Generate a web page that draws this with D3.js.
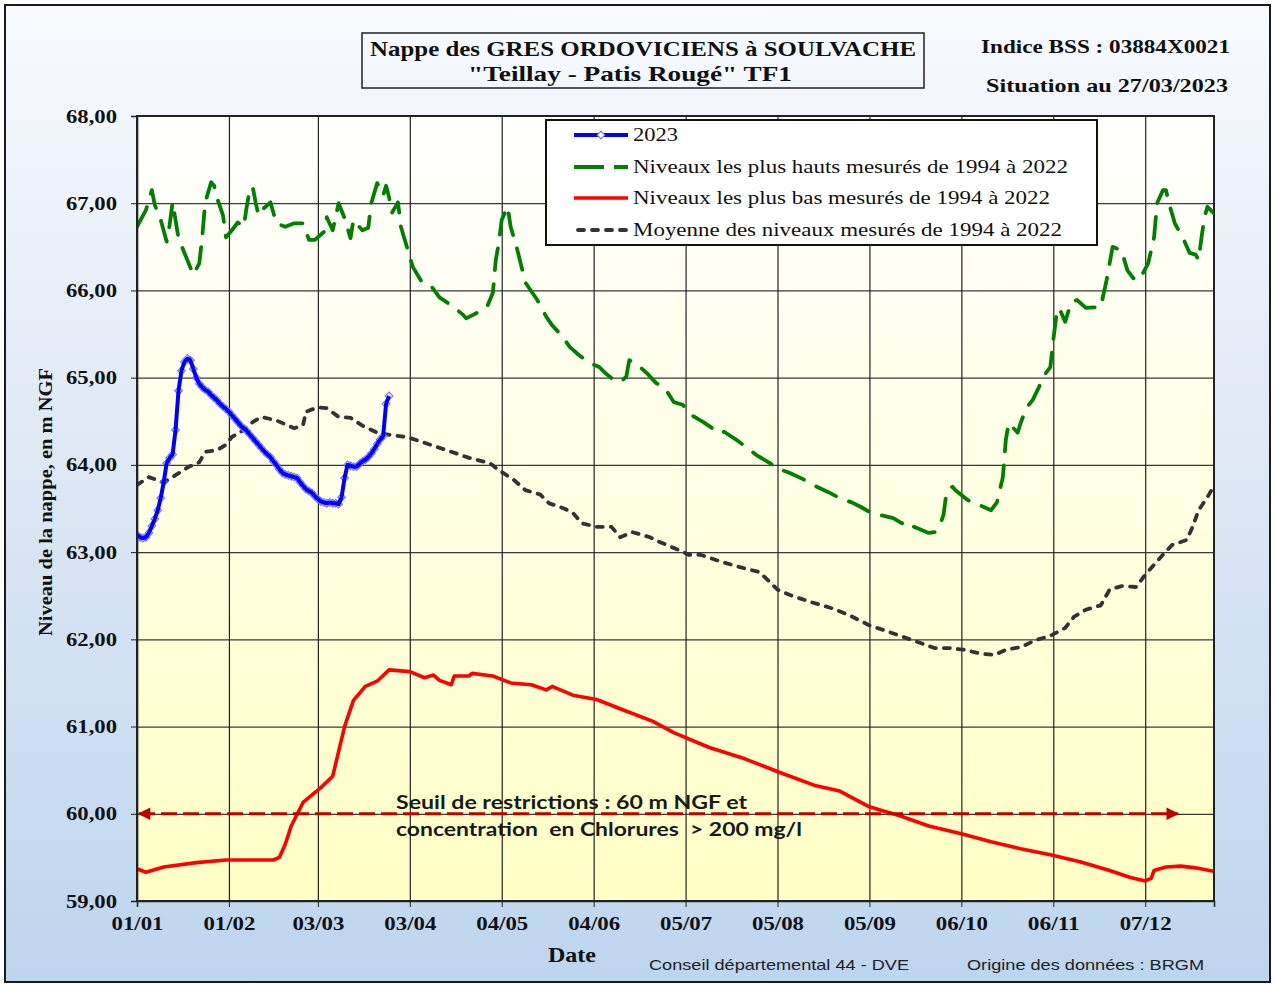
<!DOCTYPE html>
<html><head><meta charset="utf-8">
<script src="https://cdn.jsdelivr.net/npm/d3@7"></script>
<style>body{margin:0;background:#fff}</style>
</head><body>
<svg id="chart" width="1275" height="985"></svg>
<script>
// ---------- DATA ----------
const yTicks = [59,60,61,62,63,64,65,66,67,68];
const xTickDays = [0,31,61,92,123,154,185,216,247,278,309,340];
const xTickLabels = ["01/01","01/02","03/03","03/04","04/05","04/06","05/07","05/08","05/09","06/10","06/11","07/12"];

// 2023 daily levels (index = day of year, 0 = 1 Jan)
const values2023 = [63.20,63.17,63.16,63.17,63.22,63.30,63.38,63.48,63.62,63.80,
 64.02,64.08,64.12,64.40,64.85,65.08,65.18,65.22,65.20,65.10,
 65.00,64.93,64.89,64.86,64.84,64.80,64.77,64.74,64.70,64.67,
 64.64,64.61,64.57,64.53,64.49,64.45,64.42,64.39,64.35,64.31,
 64.27,64.23,64.19,64.15,64.12,64.09,64.04,64.00,63.95,63.91,
 63.89,63.88,63.87,63.86,63.85,63.80,63.76,63.72,63.70,63.68,
 63.64,63.61,63.58,63.57,63.56,63.57,63.56,63.56,63.55,63.63,
 63.85,64.00,63.99,63.98,63.98,64.01,64.04,64.06,64.09,64.13,
 64.18,64.24,64.29,64.33,64.70,64.79];

const maxDays = [0,3,5,6,8,10,11,12,14,16,19,21,22,23,25,26,27,29,30,32,34,36,37,38,39,40,41,42,45,47,50,53,56,58,60,63,64,66,68,70,72,73,76,78,79,81,83,84,85,86,88,89,91,93,96,99,102,106,110,111,115,118,120,121,122,123,125,126,128,131,135,138,140,143,146,149,152,156,158,161,163,165,166,168,172,175,178,181,184,187,191,194,197,198,202,206,209,213,216,220,225,228,233,237,241,244,247,250,255,258,260,262,267,269,271,272,273,275,276,280,288,290,292,293,294,297,298,300,302,304,306,308,309,310,311,313,315,317,320,325,327,329,332,334,336,338,341,343,344,346,347,348,350,353,355,357,358,359,360,361,363];
const maxVals = [66.73,66.92,67.15,66.98,66.81,66.56,66.75,67.01,66.60,66.43,66.18,66.31,66.61,67.01,67.24,67.20,67.06,66.86,66.61,66.69,66.78,66.73,66.96,67.15,67.19,67.01,66.86,66.92,67.01,66.77,66.73,66.77,66.77,66.58,66.58,66.67,66.84,66.69,67.00,66.83,66.60,66.81,66.69,66.72,67.00,67.23,67.09,67.20,67.07,66.89,67.01,66.73,66.50,66.27,66.10,66.06,65.92,65.83,65.72,65.68,65.75,65.81,65.97,66.35,66.54,66.81,66.96,66.73,66.50,66.09,65.89,65.70,65.60,65.49,65.35,65.26,65.18,65.12,65.05,64.97,64.95,65.01,65.20,65.17,65.05,64.94,64.88,64.72,64.69,64.57,64.49,64.42,64.36,64.38,64.29,64.19,64.11,64.03,63.96,63.91,63.83,63.77,63.69,63.62,63.57,63.52,63.46,63.43,63.39,63.33,63.35,63.29,63.22,63.23,63.33,63.43,63.69,63.75,63.71,63.60,63.48,63.57,63.86,64.29,64.48,64.37,64.48,64.66,64.74,64.88,65.03,65.12,65.43,65.70,65.80,65.64,65.86,65.89,65.80,65.81,66.12,66.50,66.46,66.23,66.14,66.12,66.31,66.61,67.00,67.15,67.15,67.00,66.77,66.58,66.43,66.41,66.35,66.61,66.84,66.96,66.89];

const minDays = [0,3,9,20,30,41,46,48,50,52,56,62,66,70,73,77,81,85,92,97,100,102,106,107,112,113,120,126,133,138,140,147,155,164,174,181,193,205,217,229,237,243,247,252,257,267,278,288,298,308,318,328,335,340,342,343,347,352,357,363];
const minVals = [59.37,59.33,59.39,59.44,59.47,59.47,59.47,59.50,59.65,59.86,60.13,60.30,60.43,61.00,61.30,61.46,61.52,61.65,61.63,61.56,61.59,61.53,61.48,61.58,61.58,61.61,61.58,61.50,61.48,61.42,61.46,61.36,61.31,61.19,61.06,60.93,60.76,60.63,60.47,60.32,60.26,60.15,60.08,60.03,59.98,59.86,59.77,59.68,59.60,59.53,59.45,59.35,59.27,59.23,59.26,59.35,59.39,59.40,59.38,59.34];

const meanDays = [0,4,9,12,17,21,23,27,30,32,36,39,42,47,53,56,57,61,64,68,72,76,81,86,91,99,106,112,119,122,127,131,136,139,144,147,150,155,160,163,167,173,176,183,186,190,197,203,210,216,220,227,234,240,247,254,259,264,269,274,279,284,289,293,298,303,308,313,316,320,325,328,332,337,340,346,349,354,356,358,361,363];
const meanVals = [63.77,63.86,63.80,63.86,63.97,64.03,64.15,64.17,64.23,64.32,64.40,64.49,64.55,64.51,64.42,64.46,64.61,64.66,64.65,64.55,64.54,64.45,64.37,64.34,64.32,64.23,64.15,64.08,64.02,63.94,63.83,63.71,63.66,63.56,63.50,63.45,63.33,63.29,63.29,63.17,63.23,63.17,63.12,63.02,62.97,62.97,62.89,62.83,62.77,62.57,62.51,62.43,62.36,62.28,62.16,62.08,62.02,61.96,61.90,61.90,61.88,61.84,61.82,61.88,61.91,61.99,62.04,62.13,62.26,62.34,62.39,62.57,62.61,62.60,62.74,62.97,63.08,63.14,63.29,63.48,63.63,63.75];

const thresholdLevel = 60;
const thresholdEndDay = 351;
const legendLabels = ["2023","Niveaux les plus hauts mesurés de 1994 à 2022","Niveaux les plus bas mesurés de 1994 à 2022","Moyenne des niveaux mesurés de 1994 à 2022"];
const titleLines = ["Nappe des GRES ORDOVICIENS à SOULVACHE","\"Teillay - Patis Rougé\" TF1"];
const annotationLines = ["Seuil de restrictions : 60 m NGF et","concentration  en Chlorures  > 200 mg/l"];

// ---------- LAYOUT ----------
const L = 137, R = 1214, T = 116, B = 901;
const svg = d3.select("#chart");
const x = d3.scaleLinear().domain([0, 363.2]).range([L, R]);
const y = d3.scaleLinear().domain([59, 68]).range([B, T]);
const serif = "'Liberation Serif','Times New Roman',serif";
const sans = "'Liberation Sans',Arial,sans-serif";

const defs = svg.append("defs");
const bg = defs.append("linearGradient").attr("id","bgGrad").attr("x1",0).attr("y1",0).attr("x2",0).attr("y2",1);
bg.append("stop").attr("offset","0%").attr("stop-color","#f8fafd");
bg.append("stop").attr("offset","50%").attr("stop-color","#dbe7f4");
bg.append("stop").attr("offset","100%").attr("stop-color","#bdd5ee");
const pg = defs.append("linearGradient").attr("id","plotGrad").attr("x1",0).attr("y1",0).attr("x2",0).attr("y2",1);
pg.append("stop").attr("offset","0%").attr("stop-color","#ffffff");
pg.append("stop").attr("offset","100%").attr("stop-color","#ffffc6");
defs.append("marker").attr("id","arrow").attr("viewBox","0 0 10 10").attr("refX",9).attr("refY",5)
  .attr("markerWidth",5).attr("markerHeight",4.2).attr("markerUnits","strokeWidth")
  .attr("orient","auto-start-reverse")
  .append("path").attr("d","M0,0 L10,5 L0,10 z").attr("fill","#c00000");

// outer frame
svg.append("rect").attr("x",5).attr("y",5).attr("width",1265).attr("height",977)
  .attr("fill","url(#bgGrad)").attr("stroke","#1a1a1a").attr("stroke-width",2);

// plot background
svg.append("rect").attr("x",L).attr("y",T).attr("width",R-L).attr("height",B-T).attr("fill","url(#plotGrad)");

// grid
svg.append("g").attr("transform",`translate(${L},0)`)
  .call(d3.axisLeft(y).tickValues(yTicks).tickSize(-(R-L)).tickFormat(""))
  .call(g=>g.select(".domain").remove())
  .selectAll("line").attr("stroke","#3a3a3a").attr("stroke-width",1.2);
svg.append("g").attr("transform",`translate(0,${B})`)
  .call(d3.axisBottom(x).tickValues(xTickDays).tickSize(-(B-T)).tickFormat(""))
  .call(g=>g.select(".domain").remove())
  .selectAll("line").attr("stroke","#222").attr("stroke-width",1.2);

// plot border
svg.append("rect").attr("x",L).attr("y",T).attr("width",R-L).attr("height",B-T)
  .attr("fill","none").attr("stroke","#222").attr("stroke-width",2);

// ---------- SERIES ----------
const line = d3.line().x(d=>x(d[0])).y(d=>y(d[1]));
defs.append("clipPath").attr("id","clip").append("rect").attr("x",L).attr("y",T).attr("width",R-L).attr("height",B-T);
const plot = svg.append("g").attr("clip-path","url(#clip)");

plot.append("path").datum(d3.zip(meanDays, meanVals)).attr("d",line)
  .attr("fill","none").attr("stroke","#333333").attr("stroke-width",3.8)
  .attr("stroke-dasharray","6,8").attr("stroke-linecap","round");
plot.append("path").datum(d3.zip(maxDays, maxVals)).attr("d",line)
  .attr("fill","none").attr("stroke","#008000").attr("stroke-width",3.8)
  .attr("stroke-dasharray","22,14").attr("stroke-linecap","round").attr("stroke-linejoin","round");
plot.append("path").datum(d3.zip(minDays, minVals)).attr("d",line)
  .attr("fill","none").attr("stroke","#ff0000").attr("stroke-width",3.6).attr("stroke-linejoin","round");

// threshold with arrows
svg.append("line").attr("x1",x(0)+2).attr("x2",x(thresholdEndDay)).attr("y1",y(thresholdLevel)).attr("y2",y(thresholdLevel))
  .attr("stroke","#c00000").attr("stroke-width",3).attr("stroke-dasharray","16,6")
  .attr("marker-start","url(#arrow)").attr("marker-end","url(#arrow)");

// 2023
const d2023 = values2023.map((v,i)=>[i,v]);
const sym = d3.symbol().type(d3.symbolSquare).size(30);
plot.selectAll(".mk").data(d2023).join("path").attr("class","mk")
  .attr("d",sym).attr("transform",d=>`translate(${x(d[0])},${y(d[1])}) rotate(45)`)
  .attr("fill","none").attr("stroke","#7373ff").attr("stroke-width",1.1);
plot.append("path").datum(d2023).attr("d",line)
  .attr("fill","none").attr("stroke","#0000ff").attr("stroke-width",4).attr("stroke-linejoin","round");

// ---------- AXES ----------
const yAx = svg.append("g").attr("transform",`translate(${L},0)`)
  .call(d3.axisLeft(y).tickValues(yTicks).tickSize(6).tickPadding(14).tickFormat(d=>d.toFixed(2).replace(".",",")));
yAx.select(".domain").attr("stroke","#222").attr("stroke-width",1.5);
yAx.selectAll("line").attr("stroke","#222");
yAx.selectAll("text").attr("font-family",serif).attr("font-weight","bold").attr("font-size",19)
  .attr("fill","#111").attr("textLength",51).attr("lengthAdjust","spacingAndGlyphs");

const xAx = svg.append("g").attr("transform",`translate(0,${B})`)
  .call(d3.axisBottom(x).tickValues(xTickDays).tickSize(6).tickPadding(10).tickFormat((d,i)=>xTickLabels[i]));
xAx.select(".domain").attr("stroke","#222").attr("stroke-width",1.5);
xAx.selectAll("line").attr("stroke","#222");
xAx.selectAll("text").attr("font-family",serif).attr("font-weight","bold").attr("font-size",19)
  .attr("fill","#111").attr("textLength",52).attr("lengthAdjust","spacingAndGlyphs");

// axis titles
svg.append("text").attr("transform","translate(52,502) rotate(-90)").attr("text-anchor","middle")
  .attr("font-family",serif).attr("font-weight","bold").attr("font-size",19).attr("fill","#111")
  .attr("textLength",268).attr("lengthAdjust","spacingAndGlyphs").text("Niveau de la nappe, en m NGF");
svg.append("text").attr("x",572).attr("y",962).attr("text-anchor","middle")
  .attr("font-family",serif).attr("font-weight","bold").attr("font-size",21).attr("fill","#111")
  .attr("textLength",48).attr("lengthAdjust","spacingAndGlyphs").text("Date");

// ---------- TITLE ----------
svg.append("rect").attr("x",362).attr("y",33).attr("width",562).attr("height",55)
  .attr("fill","none").attr("stroke","#222").attr("stroke-width",1.5);
const tl = [[643,56,546],[630,81,324]];
titleLines.forEach((t,i)=>{
  svg.append("text").attr("x",tl[i][0]).attr("y",tl[i][1]).attr("text-anchor","middle")
    .attr("font-family",serif).attr("font-weight","bold").attr("font-size",21).attr("fill","#111")
    .attr("textLength",tl[i][2]).attr("lengthAdjust","spacingAndGlyphs").text(t);
});
svg.append("text").attr("x",981).attr("y",53).attr("font-family",serif).attr("font-weight","bold").attr("font-size",19)
  .attr("fill","#111").attr("textLength",249).attr("lengthAdjust","spacingAndGlyphs").text("Indice BSS : 03884X0021");
svg.append("text").attr("x",986).attr("y",92).attr("font-family",serif).attr("font-weight","bold").attr("font-size",19)
  .attr("fill","#111").attr("textLength",242).attr("lengthAdjust","spacingAndGlyphs").text("Situation au 27/03/2023");

// ---------- ANNOTATION ----------
const al = [[809,351],[836,406]];
annotationLines.forEach((t,i)=>{
  svg.append("text").attr("x",396).attr("y",al[i][0]).attr("font-family","Lato,'Open Sans',sans-serif")
    .attr("font-weight","bold").attr("font-size",19).attr("fill","#1a1a1a").attr("xml:space","preserve")
    .attr("textLength",al[i][1]).attr("lengthAdjust","spacingAndGlyphs").text(t);
});

// ---------- LEGEND ----------
const lg = svg.append("g");
lg.append("rect").attr("x",546).attr("y",120).attr("width",551).attr("height",125)
  .attr("fill","#ffffff").attr("stroke","#111").attr("stroke-width",2);
const rowsY = [135,167,198,230];
const legLen = [45,435,417,429];
const legStyles = [
  {c:"#0000ff",w:4,da:null},
  {c:"#008000",w:3.8,da:"30,10"},
  {c:"#ff0000",w:3.6,da:null},
  {c:"#333333",w:3.8,da:"6,8",cap:"round"}
];
legendLabels.forEach((t,i)=>{
  const s = legStyles[i];
  const ln = lg.append("line").attr("x1",574).attr("x2",628).attr("y1",rowsY[i]).attr("y2",rowsY[i])
    .attr("stroke",s.c).attr("stroke-width",s.w);
  if (s.da) ln.attr("stroke-dasharray",s.da);
  if (s.cap) ln.attr("stroke-linecap",s.cap).attr("x1",578).attr("x2",626);
  if (i===0) lg.append("path").attr("d",sym).attr("transform",`translate(601,${rowsY[i]}) rotate(45)`)
    .attr("fill","#fff").attr("stroke","#7373ff").attr("stroke-width",1.1);
  lg.append("text").attr("x",633).attr("y",rowsY[i]+6).attr("font-family",serif).attr("font-size",19)
    .attr("fill","#111").attr("textLength",legLen[i]).attr("lengthAdjust","spacingAndGlyphs").text(t);
});

// ---------- FOOTER ----------
svg.append("text").attr("x",649).attr("y",970).attr("font-family",sans).attr("font-size",15).attr("fill","#222")
  .attr("textLength",260).attr("lengthAdjust","spacingAndGlyphs").text("Conseil départemental 44 - DVE");
svg.append("text").attr("x",967).attr("y",970).attr("font-family",sans).attr("font-size",15).attr("fill","#222")
  .attr("textLength",237).attr("lengthAdjust","spacingAndGlyphs").text("Origine des données : BRGM");
</script>
</body></html>
